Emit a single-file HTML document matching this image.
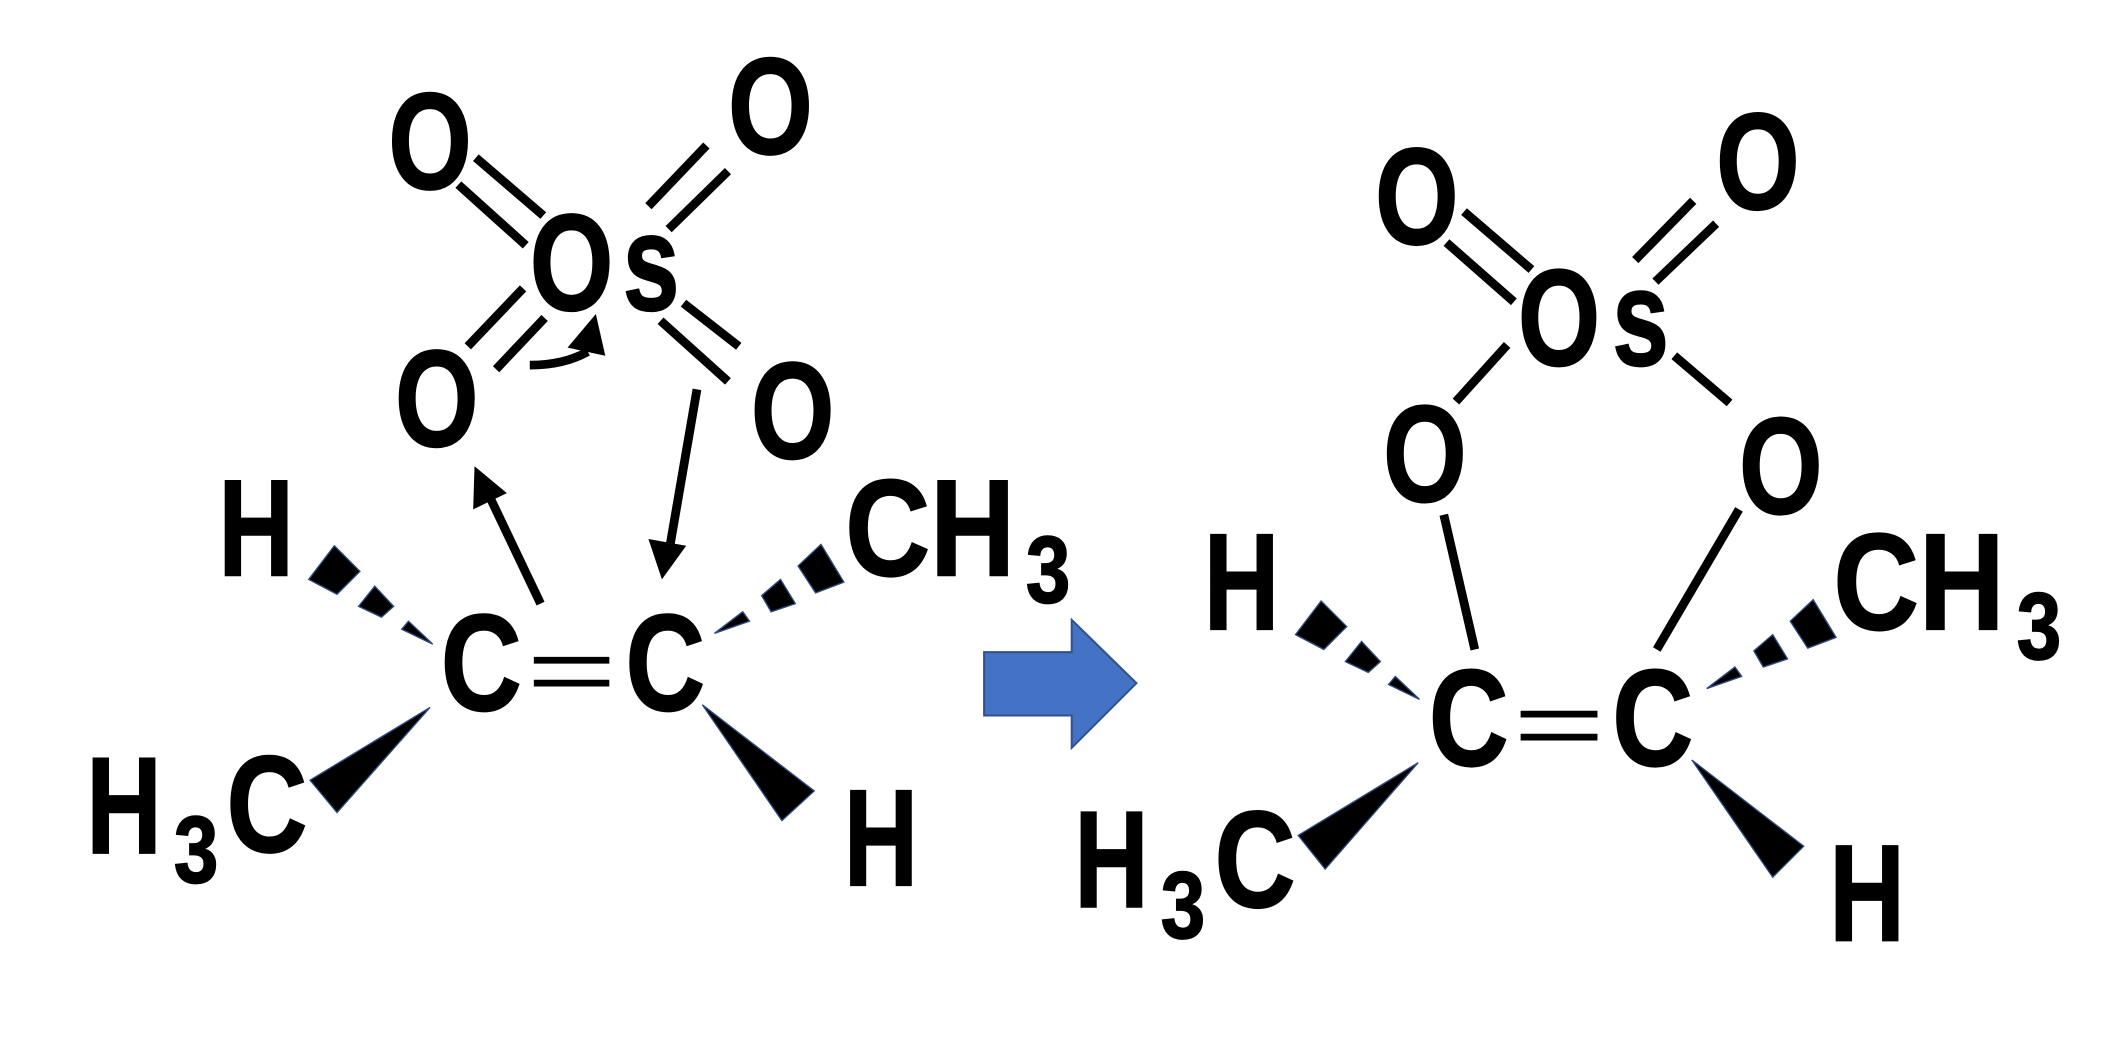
<!DOCTYPE html>
<html><head><meta charset="utf-8"><style>
html,body{margin:0;padding:0;background:#fff;width:2103px;height:1047px;overflow:hidden}
svg{display:block}
text{font-family:"Liberation Sans",sans-serif;font-weight:bold;fill:#000;stroke:#000;stroke-width:1.3}
.b{font-size:102px}
.s{font-size:70px}
</style></head><body>
<svg width="2103" height="1047" viewBox="0 0 1560 777" preserveAspectRatio="none">
<g stroke="#000" stroke-width="6.5" fill="none">
<line x1="353" y1="117" x2="403" y2="160"/>
<line x1="340" y1="137" x2="390" y2="182"/>
<line x1="481" y1="153" x2="524" y2="108"/>
<line x1="496" y1="170" x2="540" y2="127"/>
<line x1="347" y1="257" x2="388" y2="214"/>
<line x1="368" y1="274" x2="404" y2="236"/>
<line x1="507" y1="225" x2="548" y2="257"/>
<line x1="490" y1="238" x2="540" y2="283"/>
<path d="M393 271 Q418 271 436 261"/>
<line x1="401" y1="448" x2="361" y2="364"/>
<line x1="517" y1="289" x2="497" y2="405"/>
<line x1="396" y1="490" x2="452" y2="490" stroke-width="5"/>
<line x1="396" y1="507" x2="452" y2="507" stroke-width="5"/>
<line x1="1086" y1="157" x2="1136" y2="200"/>
<line x1="1073" y1="180" x2="1123" y2="224"/>
<line x1="1213" y1="193" x2="1256" y2="149"/>
<line x1="1228" y1="209" x2="1273" y2="166"/>
<line x1="1080" y1="298" x2="1118" y2="256"/>
<line x1="1242" y1="264" x2="1283" y2="299"/>
<line x1="1071" y1="382" x2="1094" y2="482"/>
<line x1="1290" y1="378" x2="1229" y2="482"/>
<line x1="1128" y1="530" x2="1185" y2="530" stroke-width="5"/>
<line x1="1128" y1="547" x2="1185" y2="547" stroke-width="5"/>
</g>
<g fill="#000" stroke="#2f4a80" stroke-width="1">
<polygon points="421,258 442,233 449,264" stroke="none"/>
<polygon points="352,346 351,378 376,366" stroke="none"/>
<polygon points="481,400 491,430 509,405" stroke="none"/>
<polygon points="248,405 267,424 250,441 229,430"/>
<polygon points="278,435 292,450 283,458 266,450"/>
<polygon points="303,461 321,478 298,467"/>
<polygon points="609,404 626,432 605,440 592,420"/>
<polygon points="579,430 590,448 572,454 565,442"/>
<polygon points="551,454 556,461 530,470"/>
<polygon points="319,525 250,603 230,579"/>
<polygon points="521,523 604,587 580,609"/>
<polygon points="980,446 999,465 982,482 961,471"/>
<polygon points="1010,476 1024,491 1015,499 998,491"/>
<polygon points="1035,502 1053,519 1030,508"/>
<polygon points="1345,445 1362,473 1341,481 1328,461"/>
<polygon points="1315,471 1326,489 1308,495 1301,483"/>
<polygon points="1287,495 1292,502 1266,511"/>
<polygon points="1052,566 983,645 963,620"/>
<polygon points="1255,564 1338,628 1315,651"/>
</g>
<polygon points="730,484 795,484 795,460 843,507 795,555 795,531 730,531" fill="#4472C4" stroke="#2f528f" stroke-width="1.5"/>
<text class="b" x="288" y="140" textLength="62" lengthAdjust="spacingAndGlyphs">O</text>
<text class="b" x="540" y="114" textLength="63" lengthAdjust="spacingAndGlyphs">O</text>
<text class="b" x="393" y="230" textLength="62" lengthAdjust="spacingAndGlyphs">O</text>
<text class="b" x="462" y="230" textLength="42" lengthAdjust="spacingAndGlyphs">s</text>
<text class="b" x="293" y="331" textLength="62" lengthAdjust="spacingAndGlyphs">O</text>
<text class="b" x="557" y="340" textLength="62" lengthAdjust="spacingAndGlyphs">O</text>
<text class="b" x="162" y="427" textLength="56" lengthAdjust="spacingAndGlyphs">H</text>
<text class="b" x="627" y="427" textLength="126" lengthAdjust="spacingAndGlyphs">CH</text>
<text class="s" x="761" y="447" textLength="33" lengthAdjust="spacingAndGlyphs">3</text>
<text class="b" x="327" y="527" textLength="60" lengthAdjust="spacingAndGlyphs">C</text>
<text class="b" x="464" y="527" textLength="59" lengthAdjust="spacingAndGlyphs">C</text>
<text class="b" x="64" y="633" textLength="56" lengthAdjust="spacingAndGlyphs">H</text>
<text class="s" x="129" y="655" textLength="33" lengthAdjust="spacingAndGlyphs">3</text>
<text class="b" x="168" y="632" textLength="60" lengthAdjust="spacingAndGlyphs">C</text>
<text class="b" x="626" y="657" textLength="55" lengthAdjust="spacingAndGlyphs">H</text>
<text class="b" x="1020" y="181" textLength="62" lengthAdjust="spacingAndGlyphs">O</text>
<text class="b" x="1273" y="155" textLength="62" lengthAdjust="spacingAndGlyphs">O</text>
<text class="b" x="1126" y="271" textLength="61" lengthAdjust="spacingAndGlyphs">O</text>
<text class="b" x="1196" y="271" textLength="42" lengthAdjust="spacingAndGlyphs">s</text>
<text class="b" x="1026" y="372" textLength="62" lengthAdjust="spacingAndGlyphs">O</text>
<text class="b" x="1290" y="381" textLength="62" lengthAdjust="spacingAndGlyphs">O</text>
<text class="b" x="893" y="467" textLength="56" lengthAdjust="spacingAndGlyphs">H</text>
<text class="b" x="1360" y="467" textLength="127" lengthAdjust="spacingAndGlyphs">CH</text>
<text class="s" x="1496" y="489" textLength="33" lengthAdjust="spacingAndGlyphs">3</text>
<text class="b" x="1060" y="568" textLength="59" lengthAdjust="spacingAndGlyphs">C</text>
<text class="b" x="1196" y="568" textLength="60" lengthAdjust="spacingAndGlyphs">C</text>
<text class="b" x="797" y="673" textLength="55" lengthAdjust="spacingAndGlyphs">H</text>
<text class="s" x="861" y="696" textLength="33" lengthAdjust="spacingAndGlyphs">3</text>
<text class="b" x="901" y="673" textLength="60" lengthAdjust="spacingAndGlyphs">C</text>
<text class="b" x="1357" y="698" textLength="56" lengthAdjust="spacingAndGlyphs">H</text>
</svg>
</body></html>
